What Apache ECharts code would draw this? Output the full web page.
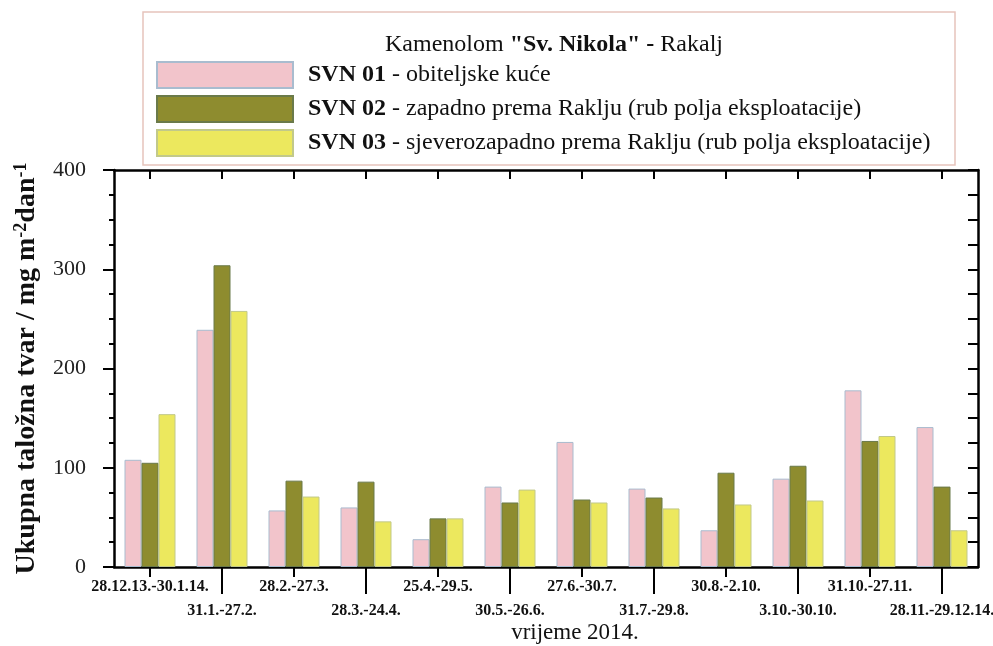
<!DOCTYPE html>
<html>
<head>
<meta charset="utf-8">
<script src="https://cdn.jsdelivr.net/npm/echarts@6/dist/echarts.min.js"></script>
<style>
  html, body { margin: 0; padding: 0; background: #fff; }
  #main { width: 993px; height: 646px; }
</style>
</head>
<body>
<div id="main"></div>
<script>
// razdoblja uzorkovanja
const categories = [
  "28.12.13.-30.1.14.", "31.1.-27.2.", "28.2.-27.3.", "28.3.-24.4.",
  "25.4.-29.5.", "30.5.-26.6.", "27.6.-30.7.", "31.7.-29.8.",
  "30.8.-2.10.", "3.10.-30.10.", "31.10.-27.11.", "28.11.-29.12.14."
];
const seriesNames = ["SVN 01", "SVN 02", "SVN 03"];
const seriesDesc = [
  "obiteljske kuće",
  "zapadno prema Raklju (rub polja eksploatacije)",
  "sjeverozapadno prema Raklju (rub polja eksploatacije)"
];
const svn01 = [108, 239, 57, 60, 28, 81, 126, 79, 37, 89, 178, 141];
const svn02 = [105, 304, 87, 86, 49, 65, 68, 70, 95, 102, 127, 81];
const svn03 = [154, 258, 71, 46, 49, 78, 65, 59, 63, 67, 132, 37];
const yTicks = [0, 100, 200, 300, 400];

const serif = "Liberation Serif";
const colors = ["#F2C4CB", "#8E8C2F", "#ECE85E"];
const borders = ["#a9bccf", "#6a7a4a", "#c2c98a"];

const chart = echarts.init(document.getElementById("main"));

const series = [svn01, svn02, svn03].map((d, i) => ({
  name: seriesNames[i],
  type: "bar",
  xAxisIndex: 0,
  yAxisIndex: 0,
  barWidth: 17,
  barGap: "0%",
  itemStyle: { color: colors[i], borderColor: borders[i], borderWidth: 1 },
  emphasis: { disabled: true },
  data: d
}));

const tickLine = { color: "#000", width: 2 };
const yMin = yTicks[0];
const yMax = yTicks[yTicks.length - 1];
const plotRect = { left: 114, right: 15, top: 170, bottom: 79, containLabel: false, outerBoundsMode: "none" };

// axes that only carry ticks (the labelled axes don't draw their own ticks here)
function xTicksOnly(pos, len, inside, every, grid) {
  return {
    type: "category",
    gridIndex: grid || 0,
    position: pos,
    data: categories,
    axisLine: { show: pos === "top", onZero: false, lineStyle: { color: "#000", width: 2.5 } },
    axisTick: { show: true, alignWithLabel: true, inside: inside, length: len, lineStyle: tickLine, interval: every },
    axisLabel: { show: false },
    splitLine: { show: false }
  };
}
function yTicksOnly(pos, len, minorLen, inside) {
  return {
    type: "value",
    position: pos,
    min: yMin, max: yMax, interval: 100,
    splitLine: { show: false },
    axisLine: { show: pos === "right", onZero: false, lineStyle: { color: "#000", width: 2.5 } },
    axisTick: { show: true, inside: inside, length: len, lineStyle: tickLine },
    minorTick: { show: true, splitNumber: 4, length: minorLen, lineStyle: tickLine },
    axisLabel: { show: false }
  };
}

const option = {
  animation: false,
  title: {
    text: 'Kamenolom {b|"Sv. Nikola" -} Rakalj',
    left: 549,
    top: 28,
    textAlign: "center",
    textStyle: {
      fontFamily: serif, fontSize: 24, fontWeight: "normal", color: "#111",
      rich: { b: { fontFamily: serif, fontSize: 24, fontWeight: "bold", color: "#111" } }
    }
  },
  graphic: [{
    type: "rect",
    z: -1,
    shape: { x: 143, y: 12, width: 812, height: 153 },
    style: { fill: "#fff", stroke: "#e6c4bc", lineWidth: 1.5 }
  }],
  legend: {
    orient: "vertical",
    left: 156,
    top: 61,
    padding: 0,
    itemWidth: 136,
    itemHeight: 26,
    itemGap: 6,
    icon: "rect",
    selectedMode: false,
    data: seriesNames,
    formatter: function (name) {
      const i = seriesNames.indexOf(name);
      return "{b|" + name + "} - " + seriesDesc[i];
    },
    textStyle: {
      fontFamily: serif, fontSize: 24, lineHeight: 26, color: "#111",
      padding: [0, 0, 0, 10],
      rich: { b: { fontFamily: serif, fontSize: 24, lineHeight: 26, fontWeight: "bold", color: "#111" } }
    }
  },
  // second grid on the same spot only holds the short bottom ticks
  grid: [plotRect, Object.assign({}, plotRect)],
  xAxis: [{
    type: "category",
    position: "bottom",
    data: categories,
    name: "vrijeme 2014.",
    nameLocation: "middle",
    nameGap: 54,
    nameMoveOverlap: false,
    nameTextStyle: { fontFamily: serif, fontSize: 23, color: "#111", padding: [0, 0, 0, 58] },
    axisLine: { onZero: false, lineStyle: { color: "#000", width: 2.5 } },
    axisTick: { show: false },
    axisLabel: {
      interval: 0, margin: 8,
      fontFamily: serif, fontSize: 16, fontWeight: "bold", color: "#111",
      lineHeight: 24,
      formatter: (v, i) => (i % 2 === 1 ? "\n" + v : v)
    }
  },
    xTicksOnly("bottom", 27, false, (i) => i % 2 === 1),
    xTicksOnly("top", 9, true, 0),
    xTicksOnly("bottom", 10, false, (i) => i % 2 === 0, 1)
  ],
  yAxis: [{
    type: "value",
    position: "left",
    min: yMin,
    max: yMax,
    interval: 100,
    name: "Ukupna taložna tvar / mg m{s|-2}dan{s|-1}",
    nameLocation: "middle",
    nameGap: 72,
    nameMoveOverlap: false,
    nameTextStyle: {
      fontFamily: serif, fontSize: 28, fontWeight: "bold", color: "#111",
      rich: {
        s: { fontFamily: serif, fontSize: 18, fontWeight: "bold", color: "#111",
             verticalAlign: "top", padding: [0, 0, 12, 0] }
      }
    },
    splitLine: { show: false },
    axisLine: { show: true, onZero: false, lineStyle: { color: "#000", width: 2.5 } },
    axisTick: { show: false },
    axisLabel: {
      margin: 3, fontFamily: serif, fontSize: 22, color: "#222",
      // spacer keeps the numbers clear of the ticks
      formatter: (v) => "{v|" + v + "}{g| }",
      rich: {
        v: { fontFamily: serif, fontSize: 22, color: "#222" },
        g: { width: 25, fontSize: 22 }
      }
    }
  },
    yTicksOnly("left", 11, 5, false),
    yTicksOnly("right", 10, 10, true),
    { type: "value", gridIndex: 1, min: yMin, max: yMax, show: false }
  ],
  series: series
};

chart.setOption(option);
</script>
</body>
</html>
